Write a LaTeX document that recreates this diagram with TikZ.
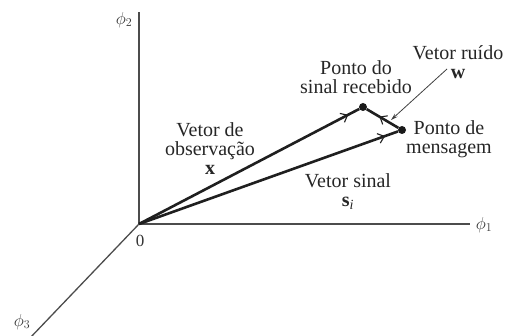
\documentclass[tikz,border=0pt]{standalone}
\usepackage{fontspec}
\setmainfont{Liberation Serif}
\usetikzlibrary{arrows.meta,decorations.markings}
\begin{document}
\begin{tikzpicture}[x=1pt,y=-1pt,
  axis/.style={line width=1.3pt,draw=black!70},
  vec/.style={line width=2.6pt,draw=black!88},
  lbl/.style={align=center,inner sep=0pt,font=\fontsize{20}{19}\selectfont,text=black!85},
  axlbl/.style={inner sep=0pt,font=\fontsize{17}{17}\selectfont,text=black!80},
  dot/.style={circle,fill=black!90,inner sep=0pt,minimum size=8pt},
  midarrow/.style={postaction={decorate},decoration={markings,mark=at position #1 with {\arrow{Straight Barb[length=6pt,width=10pt,line width=1.1pt]}}}}
]
\useasboundingbox (0,0) rectangle (505,336);
\coordinate (O) at (139,224);
\coordinate (e2) at (139,12);
\coordinate (e1) at (470,224);
\coordinate (e3) at (30,338);
\node[dot] (R) at (363,107) {};
\node[dot] (M) at (402,130) {};
\draw[axis] (O) -- (e2);
\draw[axis] (O) -- (e1);
\draw[axis] (O) -- (e3);
\draw[vec,midarrow=0.95] (O) -- (R);
\draw[vec,midarrow=0.95] (O) -- (M);
\draw[vec,midarrow=0.6] (M) -- (R);
\coordinate (lw) at (447,69);
\coordinate (wt) at (391,120);
\draw[line width=0.8pt,draw=black!75,-{Stealth[length=7pt,width=4pt]}] (lw) -- (wt);
\node[axlbl] (p2) at (124,20) {$\phi_2$};
\node[axlbl] (p1) at (484,225) {$\phi_1$};
\node[axlbl] (p3) at (22,322) {$\phi_3$};
\node[axlbl] (zero) at (140,241) {0};
\node[lbl] (lr) at (356,77) {Ponto do\\sinal recebido};
\node[lbl] (ln) at (458,62) {Vetor ruído\\\textbf{w}};
\node[lbl] (lm) at (449,139) {Ponto de\\mensagem};
\node[lbl] (ls) at (348,192) {Vetor sinal\\\textbf{s}\textsubscript{\textit{i}}};
\node[lbl] (lx) at (210,149) {Vetor de\\observação\\\textbf{x}};
\end{tikzpicture}
\end{document}
